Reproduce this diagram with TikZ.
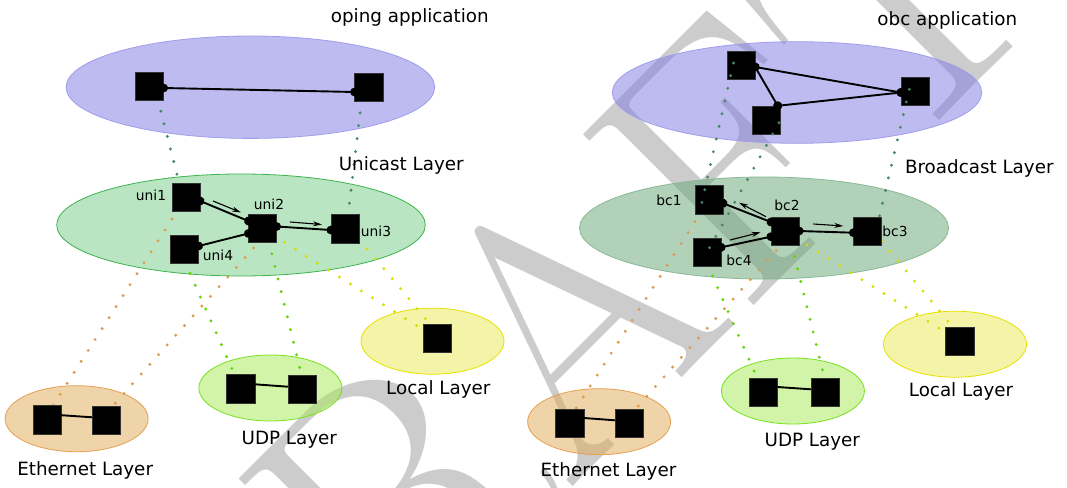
\documentclass[tikz,border=0pt]{standalone}
\usepackage{fontspec}
\newfontfamily\dejavu{DejaVu Sans}
\usetikzlibrary{arrows.meta,shapes.geometric}
\pgfdeclarelayer{wm}
\pgfdeclarelayer{bg}
\pgfsetlayers{wm,bg,main}
\definecolor{blueF}{RGB}{125,121,225}
\definecolor{blueD}{RGB}{160,156,238}
\definecolor{grnF}{RGB}{117,205,137}
\definecolor{grnD}{RGB}{60,180,75}
\definecolor{dgrnF}{RGB}{101,165,117}
\definecolor{dgrnD}{RGB}{135,185,150}
\definecolor{oraF}{RGB}{225,169,85}
\definecolor{oraD}{RGB}{230,160,80}
\definecolor{udpF}{RGB}{165,235,85}
\definecolor{udpD}{RGB}{120,225,30}
\definecolor{locF}{RGB}{235,235,85}
\definecolor{locD}{RGB}{230,225,0}
\definecolor{cTeal}{RGB}{70,135,100}
\definecolor{cOra}{RGB}{222,155,75}
\definecolor{cGrn}{RGB}{95,215,0}
\definecolor{cYel}{RGB}{220,220,0}
\begin{document}
\begin{tikzpicture}[x=1pt,y=-1pt,
  sq/.style={draw=black!80, line width=0.6pt, fill=black, minimum size=28.4pt, inner sep=0pt, outer sep=0pt},
  layer/.style={ellipse, inner sep=0pt, line width=0.8pt, fill opacity=0.5},
  big/.style={font=\dejavu\fontsize{18.3}{22}\selectfont, anchor=base, inner sep=0pt},
  small/.style={font=\dejavu\fontsize{13.8}{16}\selectfont, anchor=base, inner sep=0pt},
  link/.style={line width=1.9pt, {Circle[length=8.6pt]}-{Circle[length=8.6pt]}, shorten <=-4.3pt, shorten >=-4.3pt},
  plain/.style={line width=1.9pt},
  flow/.style={line width=1.1pt, -{Stealth[length=9pt,width=5pt]}},
  dots/.style={line width=3.2pt, line cap=round, dash pattern=on 0pt off 13pt}
]
\useasboundingbox (0,0) rectangle (1067,487);

% ---------- squares ----------
\node[sq] (lb1) at (149.5,86) {};
\node[sq] (lb2) at (368.7,87) {};
\node[sq] (uni1) at (186,197) {};
\node[sq] (uni2) at (262.5,228.5) {};
\node[sq] (uni3) at (345,228.7) {};
\node[sq] (uni4) at (184.5,249.5) {};
\node[sq] (le1) at (47,419.7) {};
\node[sq] (le2) at (106.5,420.3) {};
\node[sq] (lu1) at (240.8,388.8) {};
\node[sq] (lu2) at (302,389.2) {};
\node[sq] (ll) at (437,338.5) {};
\node[sq] (ra) at (741,65.5) {};
\node[sq] (rb) at (766.5,120) {};
\node[sq] (rc) at (915,91) {};
\node[sq] (bc1) at (709,199.7) {};
\node[sq] (bc2) at (785,231) {};
\node[sq] (bc3) at (867.5,231) {};
\node[sq] (bc4) at (707,252) {};
\node[sq] (re1) at (569.7,423) {};
\node[sq] (re2) at (629.3,423.3) {};
\node[sq] (ru1) at (763.3,392) {};
\node[sq] (ru2) at (825,392.3) {};
\node[sq] (rl) at (959.6,341.3) {};

% ---------- watermark ----------
\begin{pgfonlayer}{wm}
\fill[white] (0,0) rectangle (1067,487);
\begin{scope}
\clip (0,0) rectangle (1067,487);
\node[rotate=45, anchor=base, text=black!20, inner sep=0pt, font=\fontsize{355}{355}\selectfont] (wmark) at (640,420) {DRAFT};
\end{scope}
\end{pgfonlayer}

% ---------- layers and dotted mappings ----------
\begin{pgfonlayer}{bg}
\node[layer, fill=blueF, draw=blueD, minimum width=368.6pt, minimum height=102.4pt] (blueL) at (250.4,87.2) {};
\node[layer, fill=grnF, draw=grnD, minimum width=368.6pt, minimum height=102pt] (grnL) at (241,225) {};
\node[layer, fill=oraF, draw=oraD, minimum width=143pt, minimum height=66pt] (ethL) at (76.6,418.7) {};
\node[layer, fill=udpF, draw=udpD, minimum width=143pt, minimum height=66pt] (udpL) at (270.4,388) {};
\node[layer, fill=locF, draw=locD, minimum width=143pt, minimum height=66pt] (locL) at (432.5,341.2) {};
\node[layer, fill=blueF, draw=blueD, minimum width=369.4pt, minimum height=101.6pt] (blueR) at (797,92.5) {};
\node[layer, fill=dgrnF, draw=dgrnD, minimum width=369pt, minimum height=102pt] (grnR) at (764,228) {};
\node[layer, fill=oraF, draw=oraD, minimum width=143pt, minimum height=66pt] (ethR) at (599.1,421.7) {};
\node[layer, fill=udpF, draw=udpD, minimum width=143pt, minimum height=66pt] (udpR) at (792.9,391) {};
\node[layer, fill=locF, draw=locD, minimum width=143pt, minimum height=66pt] (locR) at (955,344.2) {};

\draw[dots,cTeal] ([xshift=4.9pt]lb1.center) -- ([xshift=-3.2pt]uni1.center);
\draw[dots,cTeal] ([xshift=-5.5pt]lb2.center) -- ([xshift=1.4pt]uni3.center);
\draw[dots,cOra] (uni1.center) -- ([xshift=-3pt]le1.center);
\draw[dots,cOra] ([xshift=8.5pt]uni2.center) -- ([xshift=-6.5pt]le2.center);
\draw[dots,cGrn] ([xshift=-5pt]uni4.center) -- (lu1.center);
\draw[dots,cGrn] ([xshift=3.2pt]uni2.center) -- ([xshift=3pt]lu2.center);
\draw[dots,cYel] (uni2.center) -- (ll.center);
\draw[dots,cYel] ([xshift=5.6pt]uni3.center) -- ([xshift=5pt]ll.center);

\draw[dots,cOra] (bc1.center) -- ([xshift=-3pt]re1.center);
\draw[dots,cOra] ([xshift=8.5pt]bc2.center) -- ([xshift=-6.5pt]re2.center);
\draw[dots,cGrn] ([xshift=-5pt]bc4.center) -- (ru1.center);
\draw[dots,cGrn] ([xshift=3.2pt]bc2.center) -- ([xshift=3pt]ru2.center);
\draw[dots,cYel] (bc2.center) -- (rl.center);
\draw[dots,cYel] ([xshift=5.6pt]bc3.center) -- ([xshift=5pt]rl.center);
\end{pgfonlayer}

% ---------- right teal mappings (over squares) ----------
\draw[dots,cTeal] ([xshift=-7.5pt,yshift=2.5pt]ra.center) -- ([xshift=-7.3pt,yshift=-3.6pt]bc1.center);
\draw[dots,cTeal] ([xshift=12.5pt,yshift=-2.7pt]rb.center) -- ([xshift=1.3pt,yshift=2pt]bc4.center);
\draw[dots,cTeal] ([xshift=-5.7pt,yshift=1.7pt]rc.center) -- ([xshift=11.8pt,yshift=14.3pt]bc3.center);

% ---------- links ----------
\draw[link] ([yshift=-2pt]lb1.east) -- ([yshift=-5pt]lb2.west);
\draw[link] ([yshift=-4pt]uni1.east) -- ([yshift=7.5pt]uni2.west);
\draw[link] ([yshift=3.5pt]uni4.east) -- ([yshift=-5pt]uni2.west);
\draw[link] ([yshift=2pt]uni2.east) -- ([yshift=-1.3pt]uni3.west);
\draw[plain] ([yshift=4.5pt]le1.east) -- ([yshift=3pt]le2.west);
\draw[plain] ([yshift=4.5pt]lu1.east) -- ([yshift=2.5pt]lu2.west);
\draw[link] ([yshift=-1.5pt]ra.east) -- ([yshift=-1.5pt]rc.west);
\draw[link] ([yshift=-1.5pt]ra.east) -- ([xshift=-3pt]rb.north east);
\draw[link] ([xshift=-3pt]rb.north east) -- ([yshift=-1.5pt]rc.west);
\draw[link] ([yshift=-3.6pt]bc1.east) -- ([yshift=9pt]bc2.west);
\draw[link] ([yshift=4.7pt]bc4.east) -- ([yshift=-5.7pt]bc2.west);
\draw[link] (bc2.east) -- ([yshift=-1.7pt]bc3.west);
\draw[plain] ([yshift=5pt]re1.east) -- ([yshift=3pt]re2.west);
\draw[plain] ([yshift=5pt]ru1.east) -- ([yshift=3pt]ru2.west);

% ---------- flow arrows ----------
\draw[flow] (213,201) -- (241,212.5);
\draw[flow] (290,222) -- (322,224.5);
\draw[flow] (766,216.7) -- (739,202.7);
\draw[flow] (730,240) -- (760.7,232.3);
\draw[flow] (813.3,224) -- (843.3,226);

% ---------- labels ----------
\node[big] (tL) at (409.8,22.5) {oping application};
\node[big] (uL) at (401.2,170) {Unicast Layer};
\node[big] (eL) at (85.2,475) {Ethernet Layer};
\node[big] (dL) at (289.3,444) {UDP Layer};
\node[big] (oL) at (438.3,394) {Local Layer};
\node[big] (tR) at (947.3,26) {obc application};
\node[big] (bR) at (979.3,173) {Broadcast Layer};
\node[big] (eR) at (608.5,476) {Ethernet Layer};
\node[big] (dR) at (812.3,446) {UDP Layer};
\node[big] (oR) at (961,396) {Local Layer};

\node[small] (n1) at (151,200) {uni1};
\node[small] (n2) at (269,209) {uni2};
\node[small] (n3) at (376,236) {uni3};
\node[small] (n4) at (218,260.7) {uni4};
\node[small] (m1) at (669,205) {bc1};
\node[small] (m2) at (787,210.7) {bc2};
\node[small] (m3) at (895,236) {bc3};
\node[small] (m4) at (739,265.7) {bc4};
\end{tikzpicture}
\end{document}
